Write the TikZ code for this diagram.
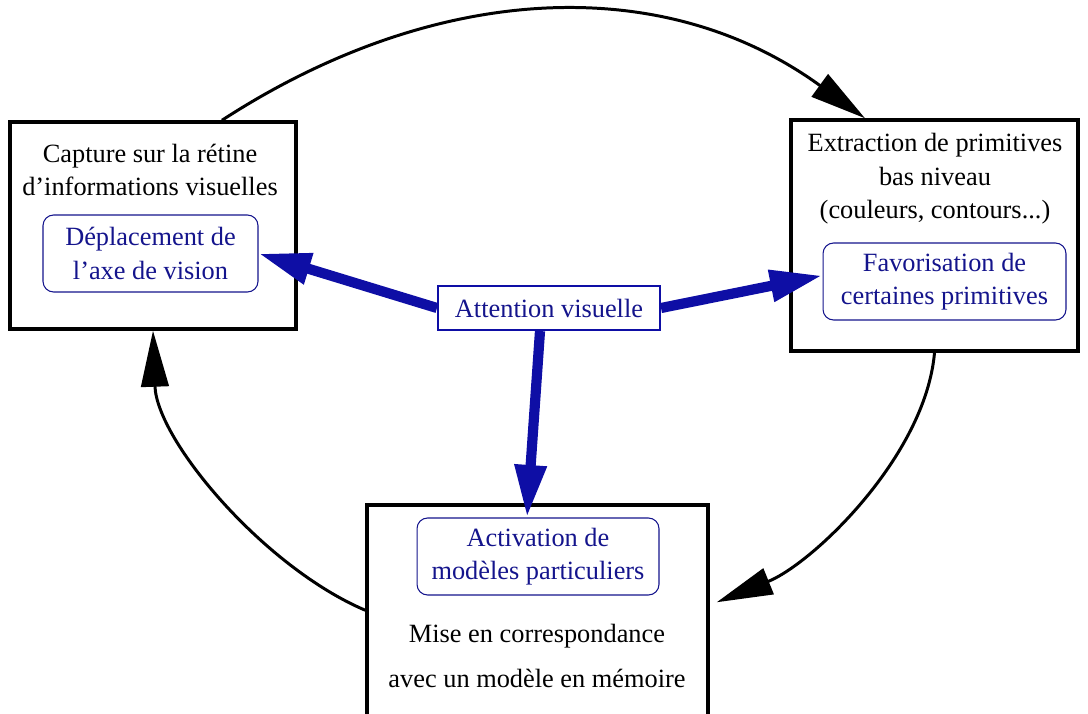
\documentclass[tikz,border=0pt]{standalone}
\usepackage{fontspec}
\setmainfont{Liberation Serif}
\usepackage{tikz}
\usetikzlibrary{arrows.meta,positioning}
\usepackage{xcolor}
\definecolor{attblue}{RGB}{14,14,165}
\definecolor{txtblue}{RGB}{20,20,140}
\tikzset{
  bigbox/.style={draw,line width=2pt,inner sep=0pt},
  txtnode/.style={align=center,inner sep=0pt,font=\fontsize{15}{19}\selectfont},
  subbox/.style={draw=txtblue,rounded corners=6pt,line width=0.6pt,align=center,inner sep=0pt,text=txtblue,font=\fontsize{15}{19}\selectfont},
  attbox/.style={draw=attblue,line width=1.2pt,align=center,inner sep=0pt,fill=white,text=txtblue,font=\fontsize{15}{19}\selectfont},
}
\begin{document}
\begin{tikzpicture}[x=0.02cm,y=0.02cm,
    cyc/.style={-{Triangle[length=1.12cm,width=0.55cm]},line width=1.7pt},
    bluearr/.style={-{Triangle[length=1.05cm,width=0.6cm]},line width=5.8pt,attblue},
  ]
  \clip (0,0) rectangle (1088,-713);

  % three stages of the cycle
  \node[bigbox,minimum width=5.72cm,minimum height=4.14cm] (capt) at (153,-225.5) {};
  \node[txtnode] (capttxt) at (150,-170) {Capture sur la rétine\\d'informations visuelles};
  \node[subbox,minimum width=4.3cm,minimum height=1.54cm] (depl) at (150.5,-253.5) {Déplacement de\\l'axe de vision};

  \node[bigbox,minimum width=5.74cm,minimum height=4.62cm] (extr) at (934.5,-235.5) {};
  \node[txtnode] (extrtxt) at (935,-179) {Extraction de primitives\\bas niveau\\(couleurs, contours...)};
  \node[subbox,minimum width=4.86cm,minimum height=1.54cm] (favo) at (944.5,-281.5) {Favorisation de\\certaines primitives};

  \node[bigbox,minimum width=6.82cm,minimum height=4.8cm] (corr) at (537.5,-625) {};
  \node[subbox,minimum width=4.84cm,minimum height=1.54cm] (activ) at (538,-556.5) {Activation de\\modèles particuliers};
  \node[txtnode] (corrtxt) at (537,-656) {Mise en correspondance\\[7pt]avec un modèle en mémoire};

  \node[attbox,minimum width=4.44cm,minimum height=0.88cm] (att) at (549,-308) {Attention visuelle};

  % cycle
  \draw[cyc] ([xshift=1.38cm]capt.north) to[out=33,in=144] ([xshift=-1.39cm]extr.north);
  \draw[cyc] (extr.south) to[out=-95,in=22,looseness=0.8] ([shift={(0.14cm,-1.98cm)}]corr.north east);
  \draw[cyc] ([yshift=-2.14cm]corr.north west) to[out=157,in=-88,looseness=0.8] (capt.south);

  % attention
  \draw[bluearr] (att.west) -- (depl.east);
  \draw[bluearr] (att.east) -- ([yshift=0.12cm]favo.west);
  \draw[bluearr] ([xshift=-0.18cm]att.south) -- ([xshift=-0.22cm]activ.north);
\end{tikzpicture}
\end{document}
